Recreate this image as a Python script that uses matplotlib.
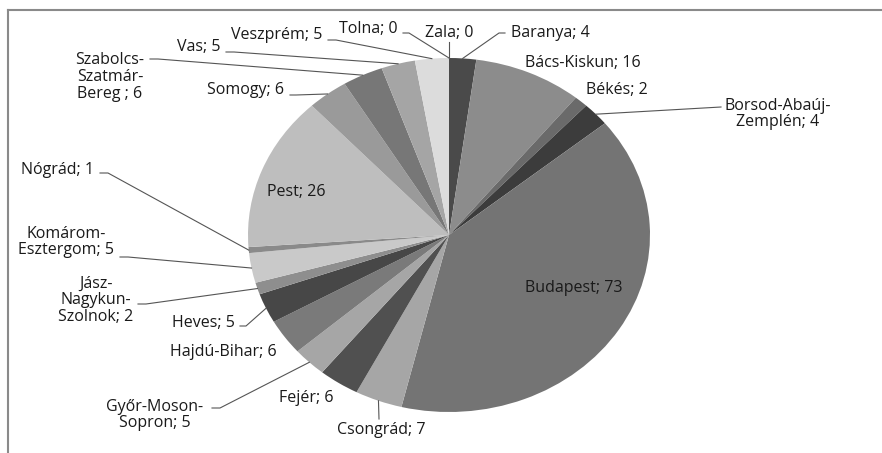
import matplotlib
matplotlib.use("Agg")
import matplotlib.pyplot as plt
from matplotlib.lines import Line2D
import numpy as np

# megyék és értékek (az óramutató járásával egyezően, felülről)
counties = ["Baranya", "Bács-Kiskun", "Békés", "Borsod-Abaúj-\nZemplén", "Budapest",
            "Csongrád", "Fejér", "Győr-Moson-\nSopron", "Hajdú-Bihar", "Heves",
            "Jász-\nNagykun-\nSzolnok", "Komárom-\nEsztergom", "Nógrád", "Pest", "Somogy",
            "Szabolcs-\nSzatmár-\nBereg ", "Vas", "Veszprém", "Tolna", "Zala"]
values = [4, 16, 2, 4, 73, 7, 6, 5, 6, 5, 2, 5, 1, 26, 6, 6, 5, 5, 0, 0]
colors = ["#4a4a4a", "#8c8c8c", "#6a6a6a", "#3c3c3c", "#747474",
          "#a6a6a6", "#505050", "#a6a6a6", "#7a7a7a", "#474747",
          "#8e8e8e", "#c9c9c9", "#8a8a8a", "#bebebe", "#9a9a9a",
          "#777777", "#a5a5a5", "#dcdcdc", "#cccccc", "#cccccc"]

# label placement in image pixels: text centre, leader start (None = no leader), stub length
label_pos = [(550, 33), (583, 63), (617, 90), (778, 114), (574, 288),
             (381, 430), (306, 398), (155, 415), (223, 352), (203, 323),
             (96, 300), (66, 242), (57, 170), (296, 192), (245, 90),
             (110, 77), (199, 47), (277, 35), (368, 29), (449, 33)]
leader_start = [(505, 33), None, None, (721, 107), None,
                (379, 419), None, (212, 408), None, (240, 326),
                (138, 304), (120, 257), (100, 173), None, (290, 95),
                (150, 59), (226, 52), (328, 40), (403, 33), (449, 42)]
stub = [-6, 0, 0, 0, 0, 0, 0, 8, 0, 6, 8, 8, 8, 0, 6, 8, 8, 8, 6, 0]

W, H = 882, 453
cx, cy, rx, ry = 449, 235, 201, 177

plt.rcParams['font.family'] = ['Open Sans', 'DejaVu Sans']

fig = plt.figure(figsize=(W / 100, H / 100), dpi=100)
ax = fig.add_axes([0, 0, 1, 1])
ax.pie(values, colors=colors, startangle=90, counterclock=False, radius=1,
       wedgeprops=dict(linewidth=0))
ax.set_aspect('auto')
ax.set_xlim(-cx / rx, (W - cx) / rx)
ax.set_ylim(-(H - cy) / ry, cy / ry)
ax.axis('off')


def px(x, y):
    return (x - cx) / rx, (cy - y) / ry


total = sum(values)
cum = np.cumsum([0] + values)
for i, name in enumerate(counties):
    txt = f"{name}; {values[i]}"
    tx, ty = px(*label_pos[i])
    ax.text(tx, ty, txt, ha='center', va='center', fontsize=11.5, color='#1a1a1a',
            linespacing=1.05)
    if leader_start[i] is not None:
        mid = (cum[i] + values[i] / 2) / total * 2 * np.pi
        ax_x, ax_y = np.sin(mid), np.cos(mid)
        sx, sy = leader_start[i]
        p0 = px(sx, sy)
        p1 = px(sx + stub[i], sy)
        ax.plot([p0[0], p1[0], ax_x], [p0[1], p1[1], ax_y], color='#555555', lw=0.8)

# chart frame (top and left only)
fig.add_artist(Line2D([8 / W, 1], [1 - 10 / H, 1 - 10 / H], color='#8a8a8a', lw=1.5))
fig.add_artist(Line2D([8 / W, 8 / W], [0, 1 - 10 / H], color='#8a8a8a', lw=1.5))

fig.savefig("out.png", dpi=100)
